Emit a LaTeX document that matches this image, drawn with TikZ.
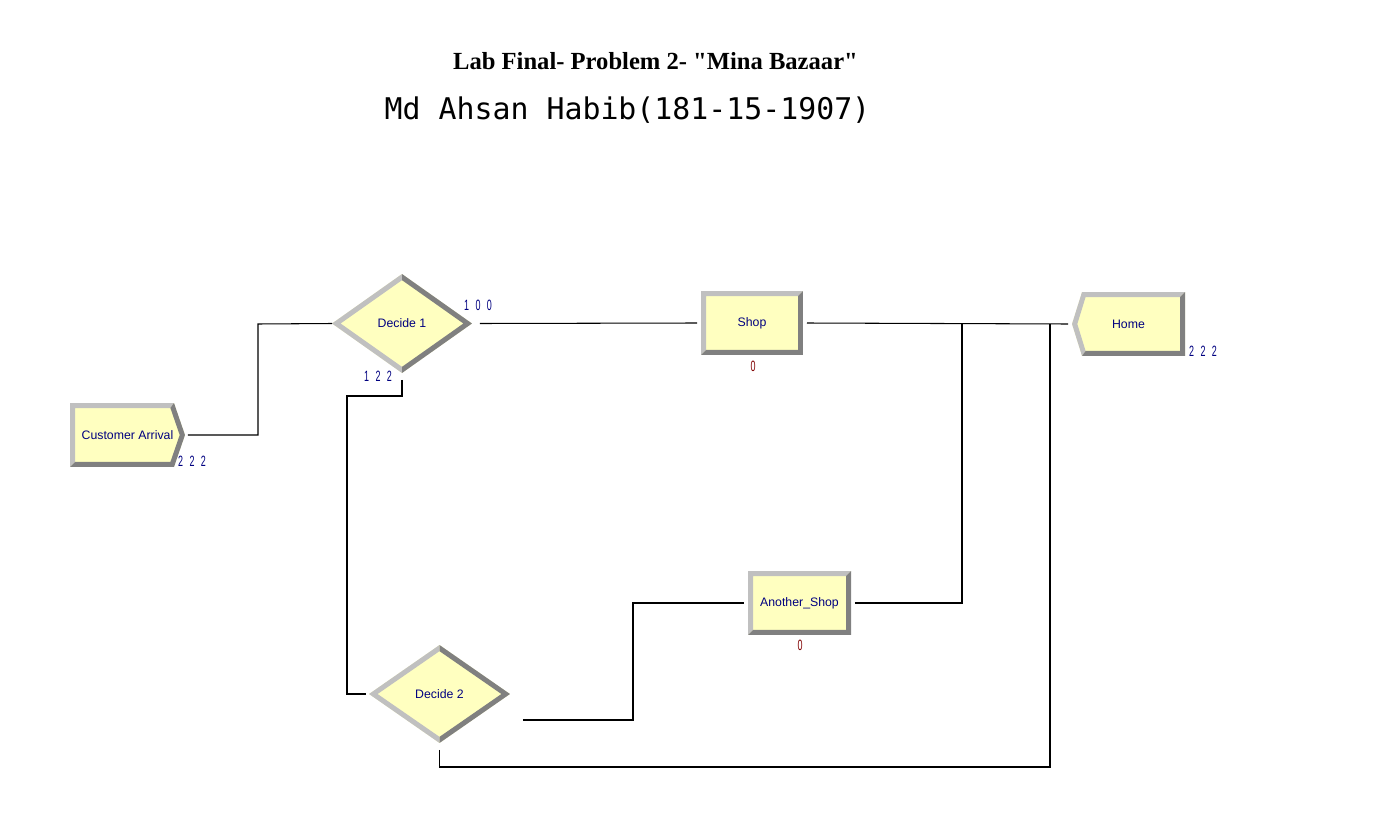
\documentclass[tikz,border=0pt]{standalone}
\usepackage{graphicx}
\usepackage{fontspec}
\setmainfont{Liberation Sans}
\newfontfamily\titlefont[Ligatures=TeXOff]{Liberation Serif}
\newfontfamily\authfont{DejaVu Sans Mono}
\usetikzlibrary{shapes.geometric,backgrounds}
\definecolor{modfill}{RGB}{255,255,192}
\definecolor{bevlight}{RGB}{192,192,192}
\definecolor{bevdark}{RGB}{128,128,128}
\definecolor{lblue}{RGB}{0,0,128}
\definecolor{lred}{RGB}{128,0,0}
\tikzset{
  conn/.style={draw=black, line width=0.6pt},
  modtext/.style={text=lblue, font=\fontsize{7}{8}\selectfont},
  modbox/.style={modtext, rectangle, minimum width=2.04cm, minimum height=1.28cm, inner sep=0pt, outer sep=0pt},
  decbox/.style={modtext, diamond, minimum width=2.8cm, minimum height=1.98cm, inner sep=0pt, outer sep=0pt},
  cntstyle/.style={font=\fontsize{8.5}{8.5}\selectfont, text=lblue, inner sep=0pt},
  titlestyle/.style={font=\titlefont\bfseries\fontsize{14}{16}\selectfont, inner sep=0pt},
  authstyle/.style={font=\authfont\fontsize{17}{20}\selectfont, inner sep=0pt},
}
\newcommand\sq[1]{\scalebox{0.6}[1]{#1}}
\newcommand\gp{\hspace{6pt}}
\newcommand\bevrect[1]{%
 \fill[modfill] (#1.north west) rectangle (#1.south east);
 \fill[bevlight] (#1.north west) -- (#1.north east) -- ([xshift=-1mm,yshift=-1mm]#1.north east) -- ([xshift=1mm,yshift=-1mm]#1.north west) -- ([xshift=1mm,yshift=1mm]#1.south west) -- (#1.south west) -- cycle;
 \fill[bevdark] (#1.north east) -- (#1.south east) -- (#1.south west) -- ([xshift=1mm,yshift=1mm]#1.south west) -- ([xshift=-1mm,yshift=1mm]#1.south east) -- ([xshift=-1mm,yshift=-1mm]#1.north east) -- cycle;}
\newcommand\bevdiam[1]{%
 \fill[modfill] (#1.west) -- (#1.north) -- (#1.east) -- (#1.south) -- cycle;
 \fill[bevlight] (#1.west) -- (#1.north) -- ([yshift=-1.23mm]#1.north) -- ([xshift=1.72mm]#1.west) -- ([yshift=1.23mm]#1.south) -- (#1.south) -- cycle;
 \fill[bevdark] (#1.north) -- (#1.east) -- (#1.south) -- ([yshift=1.23mm]#1.south) -- ([xshift=-1.72mm]#1.east) -- ([yshift=-1.23mm]#1.north) -- cycle;}
\newcommand\bevcreate[1]{%
 \fill[modfill] (#1.north west) -- ([xshift=-2.2mm]#1.north east) -- (#1.east) -- ([xshift=-2.2mm]#1.south east) -- (#1.south west) -- cycle;
 \fill[bevlight] (#1.north west) -- ([xshift=-2.2mm]#1.north east) -- ([xshift=-2.92mm,yshift=-1mm]#1.north east) -- ([xshift=1mm,yshift=-1mm]#1.north west) -- ([xshift=1mm,yshift=1mm]#1.south west) -- (#1.south west) -- cycle;
 \fill[bevdark] ([xshift=-2.2mm]#1.north east) -- (#1.east) -- ([xshift=-2.2mm]#1.south east) -- (#1.south west) -- ([xshift=1mm,yshift=1mm]#1.south west) -- ([xshift=-2.92mm,yshift=1mm]#1.south east) -- ([xshift=-1.06mm]#1.east) -- ([xshift=-2.92mm,yshift=-1mm]#1.north east) -- cycle;}
\newcommand\bevdispose[1]{%
 \fill[modfill] (#1.west) -- ([xshift=2mm]#1.north west) -- (#1.north east) -- (#1.south east) -- ([xshift=2mm]#1.south west) -- cycle;
 \fill[bevlight] (#1.west) -- ([xshift=2mm]#1.north west) -- (#1.north east) -- ([xshift=-1mm,yshift=-1mm]#1.north east) -- ([xshift=2.72mm,yshift=-1mm]#1.north west) -- ([xshift=1.06mm]#1.west) -- ([xshift=2.72mm,yshift=1mm]#1.south west) -- ([xshift=2mm]#1.south west) -- cycle;
 \fill[bevdark] (#1.north east) -- (#1.south east) -- ([xshift=2mm]#1.south west) -- ([xshift=2.72mm,yshift=1mm]#1.south west) -- ([xshift=-1mm,yshift=1mm]#1.south east) -- ([xshift=-1mm,yshift=-1mm]#1.north east) -- cycle;}
\begin{document}
\begin{tikzpicture}[x=0.02cm,y=-0.02cm]
\useasboundingbox (0,0) rectangle (1386,831);
% titles
\node (title) [titlestyle] at (655.5,61) {Lab Final- Problem 2- "Mina Bazaar"};
\node (author) [authstyle] at (627.5,110) {Md Ahsan Habib(181-15-1907)};
% modules
\node (ca) [modbox, minimum width=2.3cm] at (127.5,435) {Customer Arrival};
\node (d1) [decbox] at (402,323.5) {Decide 1};
\node (shop) [modbox] at (752,323) {Shop};
\node (hm) [modbox, minimum width=2.26cm] at (1128.5,324) {Home};
\node (as) [modbox, minimum width=2.06cm] at (799.5,603) {Another\_Shop};
\node (d2) [decbox, minimum width=2.82cm, minimum height=1.96cm] at (439.5,694) {Decide 2};
\begin{scope}[on background layer]
 \bevcreate{ca}
 \bevdiam{d1}
 \bevrect{shop}
 \bevdispose{hm}
 \bevrect{as}
 \bevdiam{d2}
\end{scope}
% counters
\node (cacnt) [cntstyle] at (192,461) {\sq{2\gp2\gp2}};
\node (d1true) [cntstyle] at (478,305) {\sq{1\gp0\gp0}};
\node (d1false) [cntstyle] at (378,376) {\sq{1\gp2\gp2}};
\node (shopq) [cntstyle, text=lred] at (753,366) {\sq{0}};
\node (asq) [cntstyle, text=lred] at (800,645) {\sq{0}};
\node (hmcnt) [cntstyle] at (1203,351) {\sq{2\gp2\gp2}};
% junctions
\coordinate (j1) at (962,324);
\coordinate (j2) at (1050,324);
% connectors
\draw[conn] ([xshift=0.6mm]ca.east) -| (258,324) -- (d1.west);
\draw[conn] ([xshift=1.6mm]d1.east) -- ([xshift=-0.8mm]shop.west);
\draw[conn] ([yshift=-1.4mm]d1.south) |- (347,396) |- ([xshift=-0.6mm]d2.west);
\draw[conn] ([xshift=0.8mm]shop.east) -- ([xshift=-0.8mm]hm.west);
\draw[conn] ([xshift=0.8mm]as.east) -| (j1);
\draw[conn] ([xshift=2.6mm,yshift=-5.2mm]d2.east) -| (633,603) -- ([xshift=-0.8mm]as.west);
\draw[conn] ([yshift=-1.4mm]d2.south) |- (1050,767) -- (j2);
\end{tikzpicture}
\end{document}
